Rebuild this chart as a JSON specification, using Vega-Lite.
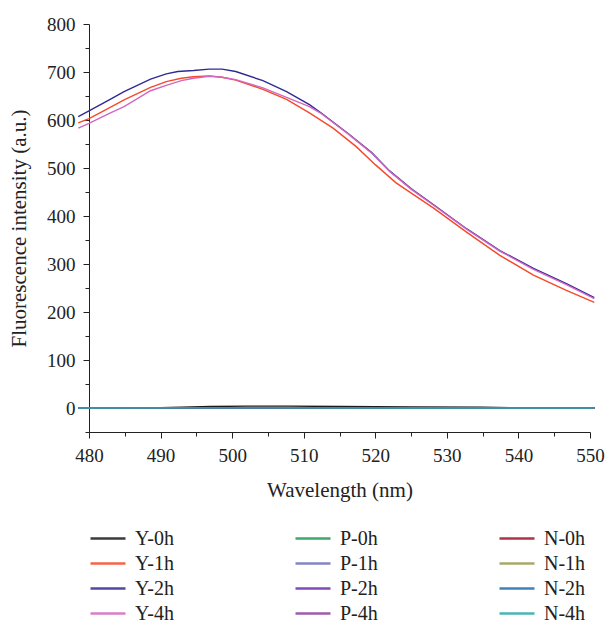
{
  "$schema": "https://vega.github.io/schema/vega-lite/v6.json",
  "autosize": {"type": "none"},
  "width": 501,
  "height": 408,
  "padding": {"left": 89, "top": 24, "right": 23, "bottom": 190},
  "background": "white",
  "config": {
    "view": {"stroke": null},
    "font": "Liberation Serif",
    "axis": {
      "labelFont": "Liberation Serif",
      "titleFont": "Liberation Serif",
      "labelColor": "#222222",
      "titleColor": "#222222",
      "titleFontWeight": "normal",
      "domainColor": "#222222",
      "tickColor": "#222222",
      "grid": false,
      "labelFontSize": 19,
      "titleFontSize": 21
    },
    "legend": {
      "labelFont": "Liberation Serif",
      "labelFontSize": 20,
      "labelColor": "#222222"
    }
  },
  "data": {
    "values": [
      {"s": "Y-0h", "w": 478.5, "v": 0},
      {"s": "Y-0h", "w": 486, "v": 0},
      {"s": "Y-0h", "w": 490, "v": 0.5},
      {"s": "Y-0h", "w": 493, "v": 1.5},
      {"s": "Y-0h", "w": 497, "v": 3},
      {"s": "Y-0h", "w": 502, "v": 4},
      {"s": "Y-0h", "w": 508, "v": 4},
      {"s": "Y-0h", "w": 515, "v": 3},
      {"s": "Y-0h", "w": 525, "v": 2},
      {"s": "Y-0h", "w": 535, "v": 1.5},
      {"s": "Y-0h", "w": 540, "v": 0.5},
      {"s": "Y-0h", "w": 545, "v": 0},
      {"s": "Y-0h", "w": 550.6, "v": 0},
      {"s": "P-0h", "w": 478.5, "v": 0},
      {"s": "P-0h", "w": 500, "v": 0.5},
      {"s": "P-0h", "w": 525, "v": 0.3},
      {"s": "P-0h", "w": 550.6, "v": 0},
      {"s": "N-0h", "w": 478.5, "v": 0},
      {"s": "N-0h", "w": 500, "v": 0.4},
      {"s": "N-0h", "w": 525, "v": 0.3},
      {"s": "N-0h", "w": 550.6, "v": 0},
      {"s": "P-1h", "w": 478.5, "v": 0},
      {"s": "P-1h", "w": 500, "v": 0.5},
      {"s": "P-1h", "w": 525, "v": 0.3},
      {"s": "P-1h", "w": 550.6, "v": 0},
      {"s": "N-1h", "w": 478.5, "v": 0},
      {"s": "N-1h", "w": 500, "v": 0.4},
      {"s": "N-1h", "w": 525, "v": 0.2},
      {"s": "N-1h", "w": 550.6, "v": 0},
      {"s": "P-2h", "w": 478.5, "v": 0},
      {"s": "P-2h", "w": 500, "v": 0.5},
      {"s": "P-2h", "w": 525, "v": 0.3},
      {"s": "P-2h", "w": 550.6, "v": 0},
      {"s": "N-2h", "w": 478.5, "v": 0},
      {"s": "N-2h", "w": 500, "v": 0.3},
      {"s": "N-2h", "w": 525, "v": 0.2},
      {"s": "N-2h", "w": 550.6, "v": 0},
      {"s": "P-4h", "w": 478.5, "v": 0},
      {"s": "P-4h", "w": 500, "v": 0.4},
      {"s": "P-4h", "w": 525, "v": 0.3},
      {"s": "P-4h", "w": 550.6, "v": 0},
      {"s": "N-4h", "w": 478.5, "v": 0},
      {"s": "N-4h", "w": 500, "v": 0.2},
      {"s": "N-4h", "w": 525, "v": 0.1},
      {"s": "N-4h", "w": 550.6, "v": 0},
      {"s": "Y-1h", "w": 478.5, "v": 594},
      {"s": "Y-1h", "w": 480, "v": 603},
      {"s": "Y-1h", "w": 482.7, "v": 624},
      {"s": "Y-1h", "w": 484.9, "v": 642},
      {"s": "Y-1h", "w": 488.6, "v": 668},
      {"s": "Y-1h", "w": 490.8, "v": 680},
      {"s": "Y-1h", "w": 492.9, "v": 687},
      {"s": "Y-1h", "w": 494.6, "v": 690},
      {"s": "Y-1h", "w": 496.8, "v": 692},
      {"s": "Y-1h", "w": 498.6, "v": 689},
      {"s": "Y-1h", "w": 500.5, "v": 683},
      {"s": "Y-1h", "w": 504.3, "v": 664},
      {"s": "Y-1h", "w": 507.6, "v": 643},
      {"s": "Y-1h", "w": 510.8, "v": 615},
      {"s": "Y-1h", "w": 514.1, "v": 583},
      {"s": "Y-1h", "w": 517.3, "v": 545},
      {"s": "Y-1h", "w": 520, "v": 507},
      {"s": "Y-1h", "w": 522.9, "v": 469},
      {"s": "Y-1h", "w": 528.1, "v": 417},
      {"s": "Y-1h", "w": 532.8, "v": 366},
      {"s": "Y-1h", "w": 537.4, "v": 318},
      {"s": "Y-1h", "w": 542.1, "v": 277},
      {"s": "Y-1h", "w": 546.7, "v": 245},
      {"s": "Y-1h", "w": 550.6, "v": 220},
      {"s": "Y-2h", "w": 478.5, "v": 607},
      {"s": "Y-2h", "w": 480, "v": 619},
      {"s": "Y-2h", "w": 482.7, "v": 641},
      {"s": "Y-2h", "w": 484.9, "v": 659},
      {"s": "Y-2h", "w": 488.6, "v": 685},
      {"s": "Y-2h", "w": 490.8, "v": 696},
      {"s": "Y-2h", "w": 492.4, "v": 701},
      {"s": "Y-2h", "w": 494.6, "v": 703},
      {"s": "Y-2h", "w": 496.8, "v": 706},
      {"s": "Y-2h", "w": 498.6, "v": 706},
      {"s": "Y-2h", "w": 500.5, "v": 701},
      {"s": "Y-2h", "w": 504.3, "v": 682},
      {"s": "Y-2h", "w": 507.6, "v": 659},
      {"s": "Y-2h", "w": 510.8, "v": 632},
      {"s": "Y-2h", "w": 512.4, "v": 615},
      {"s": "Y-2h", "w": 516.2, "v": 572},
      {"s": "Y-2h", "w": 519.5, "v": 532},
      {"s": "Y-2h", "w": 522, "v": 494},
      {"s": "Y-2h", "w": 525, "v": 457},
      {"s": "Y-2h", "w": 528.1, "v": 424},
      {"s": "Y-2h", "w": 532.8, "v": 373},
      {"s": "Y-2h", "w": 537.4, "v": 328},
      {"s": "Y-2h", "w": 542.1, "v": 291},
      {"s": "Y-2h", "w": 546.7, "v": 259},
      {"s": "Y-2h", "w": 550.6, "v": 230},
      {"s": "Y-4h", "w": 478.5, "v": 583},
      {"s": "Y-4h", "w": 480, "v": 593},
      {"s": "Y-4h", "w": 482.7, "v": 613},
      {"s": "Y-4h", "w": 484.9, "v": 628},
      {"s": "Y-4h", "w": 488.6, "v": 661},
      {"s": "Y-4h", "w": 490.8, "v": 672},
      {"s": "Y-4h", "w": 492.9, "v": 682},
      {"s": "Y-4h", "w": 494.6, "v": 687},
      {"s": "Y-4h", "w": 496.8, "v": 691},
      {"s": "Y-4h", "w": 498.6, "v": 689},
      {"s": "Y-4h", "w": 500.5, "v": 684},
      {"s": "Y-4h", "w": 504.3, "v": 667},
      {"s": "Y-4h", "w": 507.6, "v": 647},
      {"s": "Y-4h", "w": 510.8, "v": 628},
      {"s": "Y-4h", "w": 512.4, "v": 614},
      {"s": "Y-4h", "w": 516.2, "v": 571},
      {"s": "Y-4h", "w": 519.5, "v": 531},
      {"s": "Y-4h", "w": 522, "v": 493},
      {"s": "Y-4h", "w": 525, "v": 456},
      {"s": "Y-4h", "w": 528.1, "v": 423},
      {"s": "Y-4h", "w": 532.8, "v": 372},
      {"s": "Y-4h", "w": 537.4, "v": 327},
      {"s": "Y-4h", "w": 542.1, "v": 289},
      {"s": "Y-4h", "w": 546.7, "v": 257},
      {"s": "Y-4h", "w": 550.6, "v": 228}
    ]
  },
  "mark": {"type": "line", "strokeWidth": 1.4, "clip": false},
  "encoding": {
    "x": {
      "field": "w",
      "type": "quantitative",
      "scale": {"domain": [480, 550], "nice": false, "zero": false},
      "axis": {
        "title": "Wavelength (nm)",
        "values": [480, 485, 490, 495, 500, 505, 510, 515, 520, 525, 530, 535, 540, 545, 550],
        "labelExpr": "datum.value % 10 === 0 ? datum.label : ''",
        "labelFont": "Liberation Serif",
        "tickSize": {"condition": {"test": "datum.value % 10 === 0", "value": 6}, "value": 4},
        "labelPadding": 8,
        "titlePadding": 14,
        "labelFlush": false,
        "labelOverlap": false
      }
    },
    "y": {
      "field": "v",
      "type": "quantitative",
      "scale": {"domain": [-50, 800], "nice": false, "zero": false},
      "axis": {
        "title": "Fluorescence intensity (a.u.)",
        "values": [-50, 0, 50, 100, 150, 200, 250, 300, 350, 400, 450, 500, 550, 600, 650, 700, 750, 800],
        "labelExpr": "datum.value % 100 === 0 ? datum.label : ''",
        "labelFont": "Liberation Serif",
        "tickSize": {"condition": {"test": "datum.value % 100 === 0", "value": 6}, "value": 4},
        "labelPadding": 8,
        "titlePadding": 17,
        "labelFlush": false,
        "labelOverlap": false
      }
    },
    "color": {
      "field": "s",
      "type": "nominal",
      "scale": {
        "domain": ["Y-0h", "Y-1h", "Y-2h", "Y-4h", "P-0h", "P-1h", "P-2h", "P-4h", "N-0h", "N-1h", "N-2h", "N-4h"],
        "range": ["#1a1a1a", "#f44a2a", "#2e2a96", "#d466c0", "#1a9a50", "#6f6fb8", "#6a2db0", "#8e3f9e", "#a0102a", "#9a9a50", "#1f6cb0", "#2aa8a8"]
      },
      "legend": {
        "title": null,
        "orient": "none",
        "legendX": 0,
        "legendY": 502,
        "columns": 3,
        "columnPadding": 120,
        "rowPadding": 0,
        "clipHeight": 25,
        "padding": 0,
        "symbolType": "stroke",
        "symbolSize": 1225,
        "symbolStrokeWidth": 2.5,
        "symbolOpacity": 0.85,
        "labelOffset": 8
      }
    }
  }
}
